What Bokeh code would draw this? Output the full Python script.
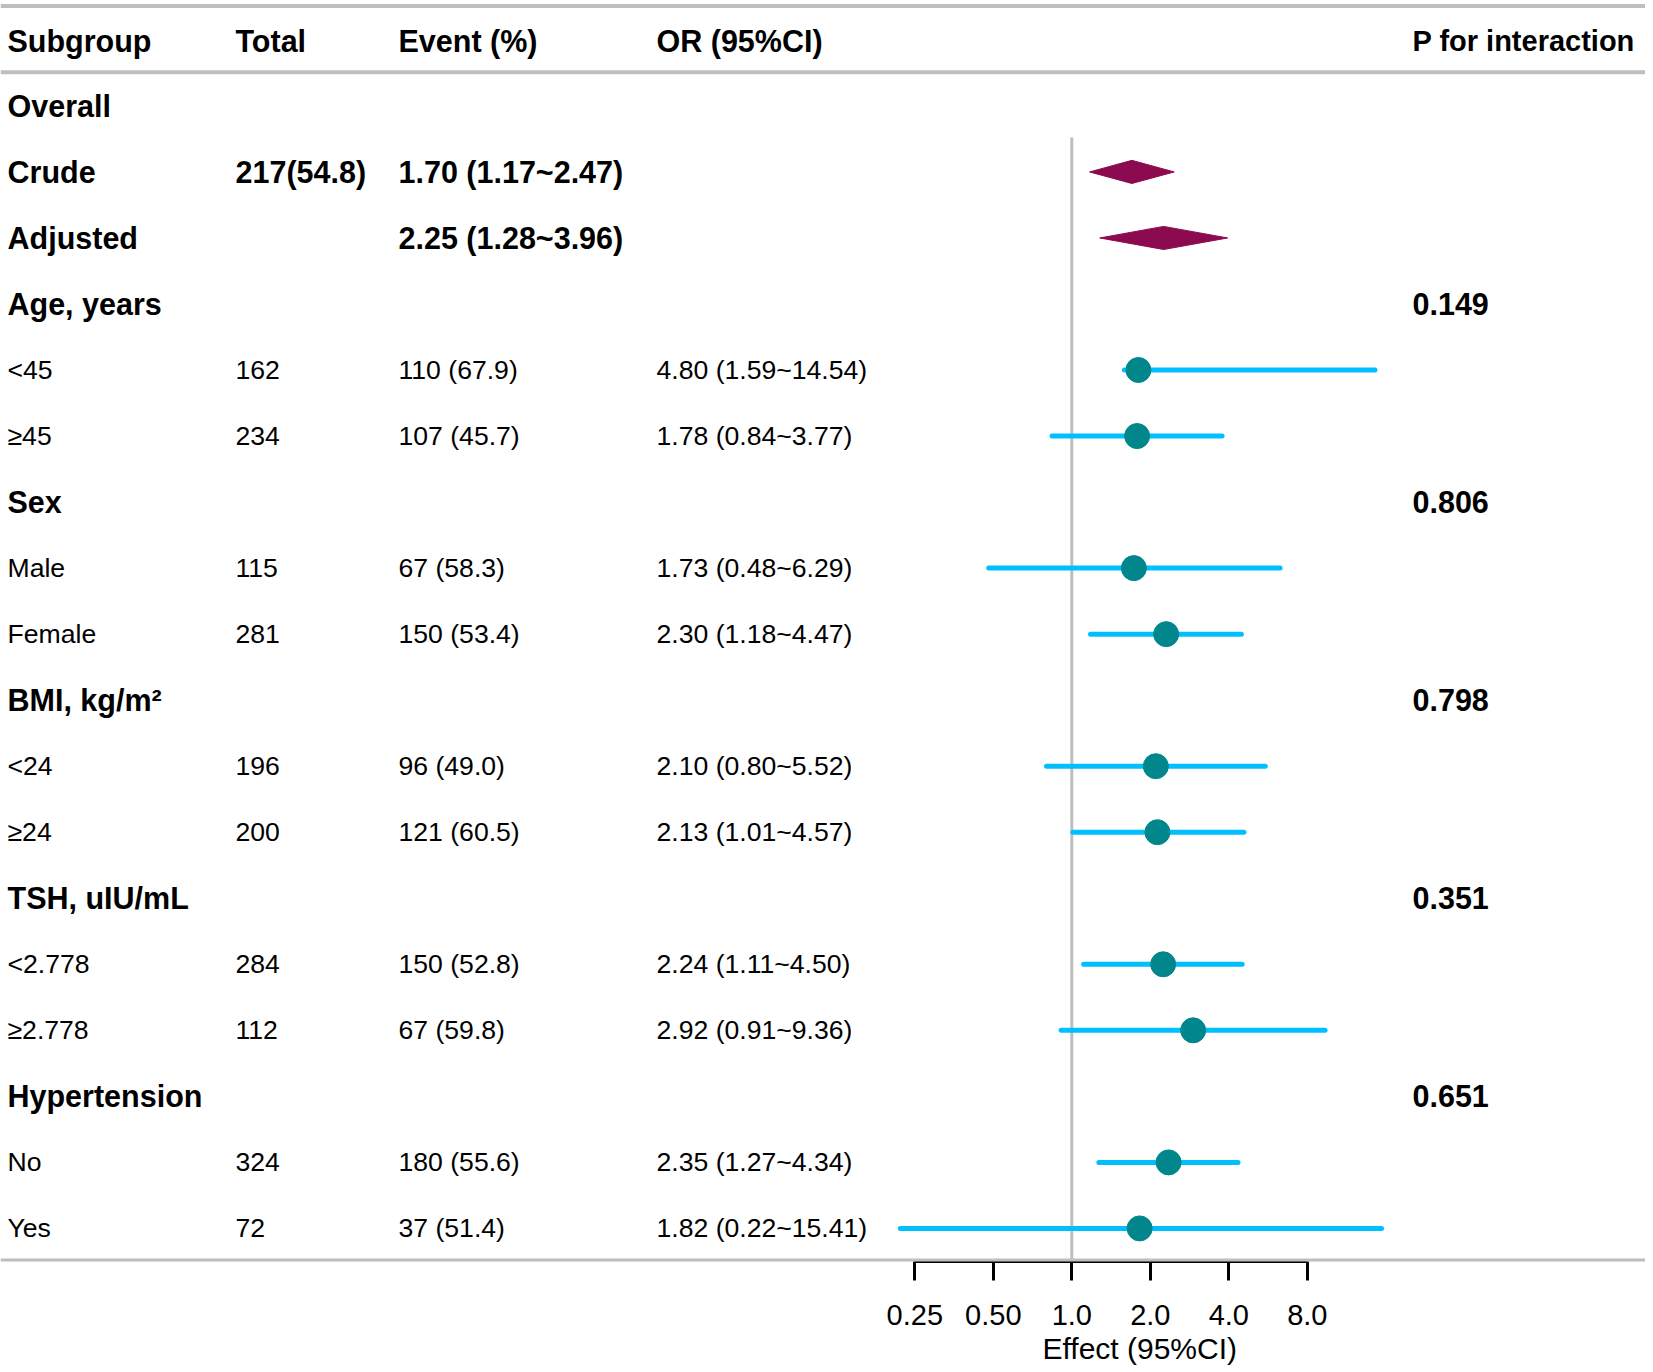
from bokeh.plotting import figure
from bokeh.models import Range1d, Span, FixedTicker, Title
from bokeh.core.properties import value
from bokeh.embed import file_html
from bokeh.resources import INLINE

# ---------------- data ----------------
labels = ["Overall", "Crude", "Adjusted", "Age, years", "<45", "≥45", "Sex", "Male", "Female",
          "BMI, kg/m²", "<24", "≥24", "TSH, uIU/mL", "<2.778", "≥2.778", "Hypertension", "No", "Yes"]
bold_rows = [True, True, True, True, False, False, True, False, False,
             True, False, False, True, False, False, True, False, False]
totals = ["", "217(54.8)", "", "", "162", "234", "", "115", "281",
          "", "196", "200", "", "284", "112", "", "324", "72"]
events = ["", "1.70 (1.17~2.47)", "2.25 (1.28~3.96)", "", "110 (67.9)", "107 (45.7)", "", "67 (58.3)", "150 (53.4)",
          "", "96 (49.0)", "121 (60.5)", "", "150 (52.8)", "67 (59.8)", "", "180 (55.6)", "37 (51.4)"]
ors = ["", "", "", "", "4.80 (1.59~14.54)", "1.78 (0.84~3.77)", "", "1.73 (0.48~6.29)", "2.30 (1.18~4.47)",
       "", "2.10 (0.80~5.52)", "2.13 (1.01~4.57)", "", "2.24 (1.11~4.50)", "2.92 (0.91~9.36)",
       "", "2.35 (1.27~4.34)", "1.82 (0.22~15.41)"]
pvals = ["", "", "", "0.149", "", "", "0.806", "", "", "0.798", "", "", "0.351", "", "", "0.651", "", ""]
headers = ["Subgroup", "Total", "Event (%)", "OR (95%CI)"]
p_header = "P for interaction"

# subgroup estimates as plotted (point positions)
sub_labels = ["<45", "≥45", "Male", "Female", "<24", "≥24", "<2.778", "≥2.778", "No", "Yes"]
sub_est = [1.80, 1.78, 1.73, 2.30, 2.10, 2.13, 2.24, 2.92, 2.35, 1.82]
sub_lo = [1.59, 0.84, 0.48, 1.18, 0.80, 1.01, 1.11, 0.91, 1.27, 0.22]
sub_hi = [14.54, 3.77, 6.29, 4.47, 5.52, 4.57, 4.50, 9.36, 4.34, 15.41]

# overall estimates (diamonds)
dia_labels = ["Crude", "Adjusted"]
dia_est = [1.70, 2.25]
dia_lo = [1.17, 1.28]
dia_hi = [2.47, 3.96]

axis_ticks = [0.25, 0.5, 1, 2, 4, 8]
axis_tick_labels = ["0.25", "0.50", "1.0", "2.0", "4.0", "8.0"]
axis_title = "Effect (95%CI)"

# ---------------- layout ----------------
FW, FH = 1645, 1261
PX_PER_DOUBLING = 78.5
ONE_PX = 1071.3
L0 = -ONE_PX / PX_PER_DOUBLING
L1 = L0 + FW / PX_PER_DOUBLING
ROW0_PX = 105.4
ROW_PX = 66.03
ROW_TOP = (0 - ROW0_PX) / ROW_PX
ROW_BOTTOM = (FH - ROW0_PX) / ROW_PX


def px_to_x(px):
    return 2 ** (L0 + px / PX_PER_DOUBLING)


def px_to_y(py):
    return -(py - ROW0_PX) / ROW_PX


def ypos(label):
    return -labels.index(label)


FONT = value("Liberation Sans")
BOLD_SIZE = "30.5px"
REG_SIZE = "26.6px"

p = figure(x_axis_type="log", x_range=Range1d(2 ** L0, 2 ** L1),
           y_range=Range1d(-ROW_BOTTOM, -ROW_TOP),
           frame_width=FW, frame_height=FH, min_border=0,
           toolbar_location=None, output_backend="svg",
           y_axis_location=None, outline_line_color=None)
p.xgrid.visible = False
p.ygrid.visible = False

# horizontal rules
for py in [5.5, 71.7, 1260]:
    p.add_layout(Span(location=px_to_y(py), dimension="width", line_color="#BEBEBE", line_width=4))

# reference line at 1
p.segment(x0=[1], y0=[px_to_y(137)], x1=[1], y1=[px_to_y(1260)], line_color="#BEBEBE", line_width=3)

# columns
col_px = [7, 235, 398, 656, 1412]
hx = [px_to_x(c) for c in col_px]
p.text(x=hx[:4], y=[px_to_y(40)] * len(headers), text=headers, text_font=FONT, text_font_size=BOLD_SIZE,
       text_font_style="bold", text_baseline="middle", text_align="left", text_color="black")
p.text(x=[hx[4]], y=[px_to_y(40)], text=[p_header], text_font=FONT, text_font_size="29px",
       text_font_style="bold", text_baseline="middle", text_align="left", text_color="black")

cols = [labels, totals, events, ors, pvals]
for ci, col in enumerate(cols):
    xs_b, ys_b, ts_b, xs_n, ys_n, ts_n = [], [], [], [], [], []
    for ri, t in enumerate(col):
        if not t:
            continue
        bold = bold_rows[ri] or ci == 4
        if bold:
            xs_b.append(hx[ci]); ys_b.append(-ri); ts_b.append(t)
        else:
            xs_n.append(hx[ci]); ys_n.append(-ri); ts_n.append(t)
    if ts_b:
        p.text(x=xs_b, y=ys_b, text=ts_b, text_font=FONT, text_font_size=BOLD_SIZE,
               text_font_style="bold", text_baseline="middle", text_align="left", text_color="black")
    if ts_n:
        p.text(x=xs_n, y=ys_n, text=ts_n, text_font=FONT, text_font_size=REG_SIZE,
               text_font_style="normal", text_baseline="middle", text_align="left", text_color="black")

# CI lines and points
sy = [ypos(l) for l in sub_labels]
p.segment(x0=sub_lo, y0=sy, x1=sub_hi, y1=sy, line_color="#00BFFF", line_width=5, line_cap="round")
p.scatter(x=sub_est, y=sy, size=25, fill_color="#00868B", line_color="#00868B")

# diamonds
h = 0.175
dxs, dys = [], []
for lab, e, lo, hi in zip(dia_labels, dia_est, dia_lo, dia_hi):
    y = ypos(lab)
    dxs.append([lo, e, hi, e])
    dys.append([y, y + h, y, y - h])
p.patches(xs=dxs, ys=dys, fill_color="#8B0A50", line_color="#8B0A50", line_width=1)

# x axis
ax = p.xaxis[0]
ax.ticker = FixedTicker(ticks=axis_ticks, minor_ticks=[])
ax.bounds = (axis_ticks[0], axis_ticks[-1])
ax.major_label_overrides = {t: s for t, s in zip(axis_ticks, axis_tick_labels)}
ax.axis_line_width = 3
ax.axis_line_color = "black"
ax.major_tick_line_width = 3
ax.major_tick_line_color = "black"
ax.major_tick_in = 0
ax.major_tick_out = 19
ax.minor_tick_in = 0
ax.minor_tick_out = 0
ax.major_label_standoff = 24
ax.major_label_text_font = "Liberation Sans"
ax.major_label_text_font_size = "29px"
ax.major_label_text_color = "black"

# axis title, placed under the forest panel as in the reference
p.add_layout(Title(text=axis_title, align="left", offset=1042, standoff=5,
                   text_font="Liberation Sans", text_font_size="30px",
                   text_font_style="normal", text_color="black"), "below")

open("out.html", "w").write(file_html(p, INLINE))
